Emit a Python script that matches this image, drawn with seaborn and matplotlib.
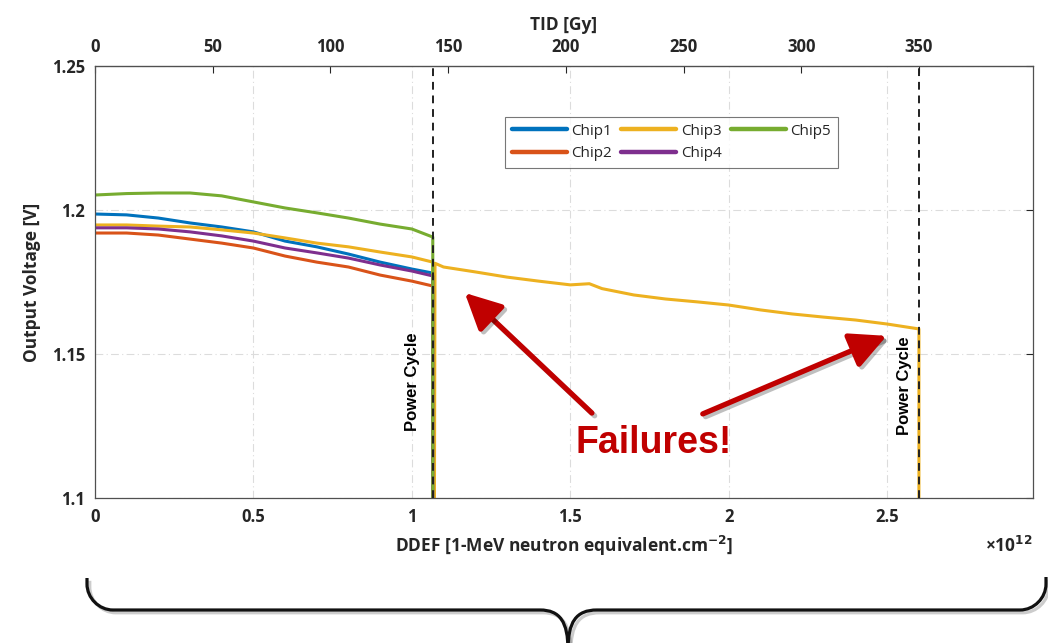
import numpy as np
import pandas as pd
import matplotlib
matplotlib.use("Agg")
import matplotlib.pyplot as plt
import matplotlib.patheffects as pe
from matplotlib.path import Path
from matplotlib.patches import PathPatch
import seaborn as sns

# ------------------------------------------
# Data (DDEF in units of 1e12, voltage in V)
# ------------------------------------------
ddef_early = [0.0, 0.1, 0.2, 0.3, 0.4, 0.5, 0.6, 0.7, 0.8, 0.9, 1.0, 1.066]
fail_1 = 1.066
fail_2 = 2.6
v_floor = 1.09  # chips drop out below the plotted range

chip1_v = [1.1986, 1.1983, 1.1972, 1.1955, 1.1941, 1.1924, 1.1892, 1.1872, 1.1847, 1.1819, 1.1795, 1.1781]
chip2_v = [1.1920, 1.1920, 1.1913, 1.1899, 1.1885, 1.1868, 1.1840, 1.1819, 1.1802, 1.1774, 1.1753, 1.1736]
chip4_v = [1.1938, 1.1938, 1.1934, 1.1924, 1.1910, 1.1892, 1.1868, 1.1851, 1.1833, 1.1809, 1.1788, 1.1771]
chip5_v = [1.2052, 1.2057, 1.2059, 1.2059, 1.2049, 1.2028, 1.2007, 1.1990, 1.1972, 1.1951, 1.1934, 1.1906]

chip3_x = [0.0, 0.1, 0.2, 0.3, 0.4, 0.5, 0.6, 0.7, 0.8, 0.9, 1.0, 1.066, 1.071, 1.073,
           1.1, 1.2, 1.3, 1.4, 1.5, 1.56, 1.6, 1.7, 1.8, 1.9, 2.0, 2.1, 2.2, 2.3, 2.4, 2.5, 2.6]
chip3_v = [1.1948, 1.1948, 1.1944, 1.1941, 1.1931, 1.1920, 1.1903, 1.1885, 1.1872, 1.1854, 1.1837, 1.1819, v_floor, 1.1815,
           1.1802, 1.1785, 1.1767, 1.1753, 1.1740, 1.1744, 1.1727, 1.1705, 1.1691, 1.1681, 1.1670, 1.1653, 1.1639, 1.1628,
           1.1618, 1.1604, 1.1587]

chips = ["Chip1", "Chip2", "Chip3", "Chip4", "Chip5"]
colors = ["#0072BD", "#D95319", "#EDB120", "#7E2F8E", "#77AC30"]
gy_per_ddef = 350 / 2.6  # TID [Gy] per 1e12 DDEF

# build long-form table
rows = []
for name, vals in [("Chip1", chip1_v), ("Chip2", chip2_v), ("Chip4", chip4_v), ("Chip5", chip5_v)]:
    xs = ddef_early + [fail_1]
    ys = vals + [v_floor]
    rows += [(name, x, y, i) for i, (x, y) in enumerate(zip(xs, ys))]
xs3 = chip3_x + [fail_2]
ys3 = chip3_v + [v_floor]
rows += [("Chip3", x, y, i) for i, (x, y) in enumerate(zip(xs3, ys3))]
df = pd.DataFrame(rows, columns=["chip", "ddef", "volt", "order"])
df["chip"] = pd.Categorical(df["chip"], categories=chips)
df = df.sort_values(["chip", "order"])

# ------------------------------------------
# Plot
# ------------------------------------------
sns.set_style("white")
plt.rcParams["font.family"] = ["Open Sans", "DejaVu Sans"]

fig = plt.figure(figsize=(10.48, 6.43), dpi=100)
ax = fig.add_axes([0.0906, 0.2255, 0.8951, 0.6719])

sns.lineplot(data=df, x="ddef", y="volt", hue="chip", palette=colors,
             hue_order=chips, sort=False, estimator=None, units="chip",
             linewidth=2.2, ax=ax, legend=False)

ax.set_xlim(0, 2.96)
ax.set_ylim(1.1, 1.25)
ax.set_xticks([0, 0.5, 1, 1.5, 2, 2.5])
ax.set_xticklabels(["0", "0.5", "1", "1.5", "2", "2.5"])
ax.set_yticks([1.1, 1.15, 1.2, 1.25])
ax.set_yticklabels(["1.1", "1.15", "1.2", "1.25"])

dark = "#262626"
ax.grid(True, color="#dcdcdc", linestyle=(0, (7, 3, 1, 3)), linewidth=0.8)
for s in ax.spines.values():
    s.set_color("#505050")
    s.set_linewidth(0.9)
ax.tick_params(direction="in", length=5, width=0.8, colors=dark, labelsize=12,
               right=True, pad=7)
for lab in ax.get_xticklabels() + ax.get_yticklabels():
    lab.set_fontweight("bold")

ax.set_xlabel("DDEF [1-MeV neutron equivalent.cm$^{\\mathbf{-2}}$]", fontsize=12.5,
              fontweight="bold", color=dark, labelpad=6)
ax.set_ylabel("Output Voltage [V]", fontsize=12.5, fontweight="bold", color=dark, labelpad=8)
ax.text(1.0, -0.11, "×10$^{\\mathbf{12}}$", transform=ax.transAxes, ha="right", va="center",
        fontsize=12.5, fontweight="bold", color=dark)

# top TID axis
top = ax.secondary_xaxis("top", functions=(lambda x: x * gy_per_ddef, lambda t: t / gy_per_ddef))
top.set_xticks([0, 50, 100, 150, 200, 250, 300, 350])
top.tick_params(direction="in", length=5, width=0.8, colors=dark, labelsize=12, pad=7)
for lab in top.get_xticklabels():
    lab.set_fontweight("bold")
top.set_xlabel("TID [Gy]", fontsize=12.5, fontweight="bold", color=dark, labelpad=6)

# power cycle markers
for xv in [fail_1, fail_2]:
    ax.axvline(xv, color="#202020", linestyle=(0, (4, 3)), linewidth=1.4, zorder=5)
for xv, yc in [(1.003, 1.1403), (2.555, 1.1389)]:
    ax.text(xv, yc, "Power Cycle", rotation=90, ha="center", va="center", fontsize=12,
            fontweight="bold", family="Liberation Sans", color="black")

# legend
handles = [plt.Line2D([], [], color=c, linewidth=3.2) for c in colors]
leg = ax.legend(handles, chips, loc="upper left", bbox_to_anchor=(0.437, 0.882), ncol=3,
                fontsize=11, frameon=True, fancybox=False, edgecolor="#555555",
                handlelength=3.6, handletextpad=0.3, columnspacing=0.6, borderpad=0.45,
                labelspacing=0.5, borderaxespad=0)
leg.get_frame().set_linewidth(0.8)

# failure arrows
red = "#C00000"
shadow = [pe.SimpleLineShadow(offset=(2, -2), alpha=0.25), pe.Normal()]
for tip, tail in [((1.167, 1.1712), (1.568, 1.1295)), ((2.498, 1.1563), (1.918, 1.1292))]:
    ax.annotate("", xy=tip, xytext=tail,
                arrowprops=dict(arrowstyle="-|>,head_length=1.1,head_width=0.55", color=red,
                                lw=3.8, mutation_scale=20, shrinkA=0, shrinkB=0,
                                path_effects=shadow), zorder=6)
ax.text(1.763, 1.1191, "Failures!", ha="center", va="center", fontsize=27, fontweight="bold",
        family="Liberation Sans", color=red, zorder=7)

# curly brace below the chart
W, H = 1048, 643
def fp(x, y):
    return (x / W, 1 - y / H)

brace_parts = [
    [(87, 578), (87, 584), (87, 598), (99, 610), (113, 610), (540, 610), (560, 610), (568, 622), (568, 650)],
    [(1046, 577), (1046, 584), (1046, 598), (1034, 610), (1020, 610), (597, 610), (576, 610), (568, 622), (568, 650)],
]
codes = [Path.MOVETO, Path.LINETO, Path.CURVE4, Path.CURVE4, Path.CURVE4, Path.LINETO,
         Path.CURVE4, Path.CURVE4, Path.CURVE4]
for pts in brace_parts:
    path = Path([fp(*p) for p in pts], codes)
    patch = PathPatch(path, transform=fig.transFigure, fill=False, edgecolor="#111111",
                      linewidth=2.3, clip_on=False,
                      path_effects=[pe.SimpleLineShadow(offset=(2, -2), alpha=0.2), pe.Normal()])
    fig.add_artist(patch)

fig.savefig("out.png", dpi=100)
